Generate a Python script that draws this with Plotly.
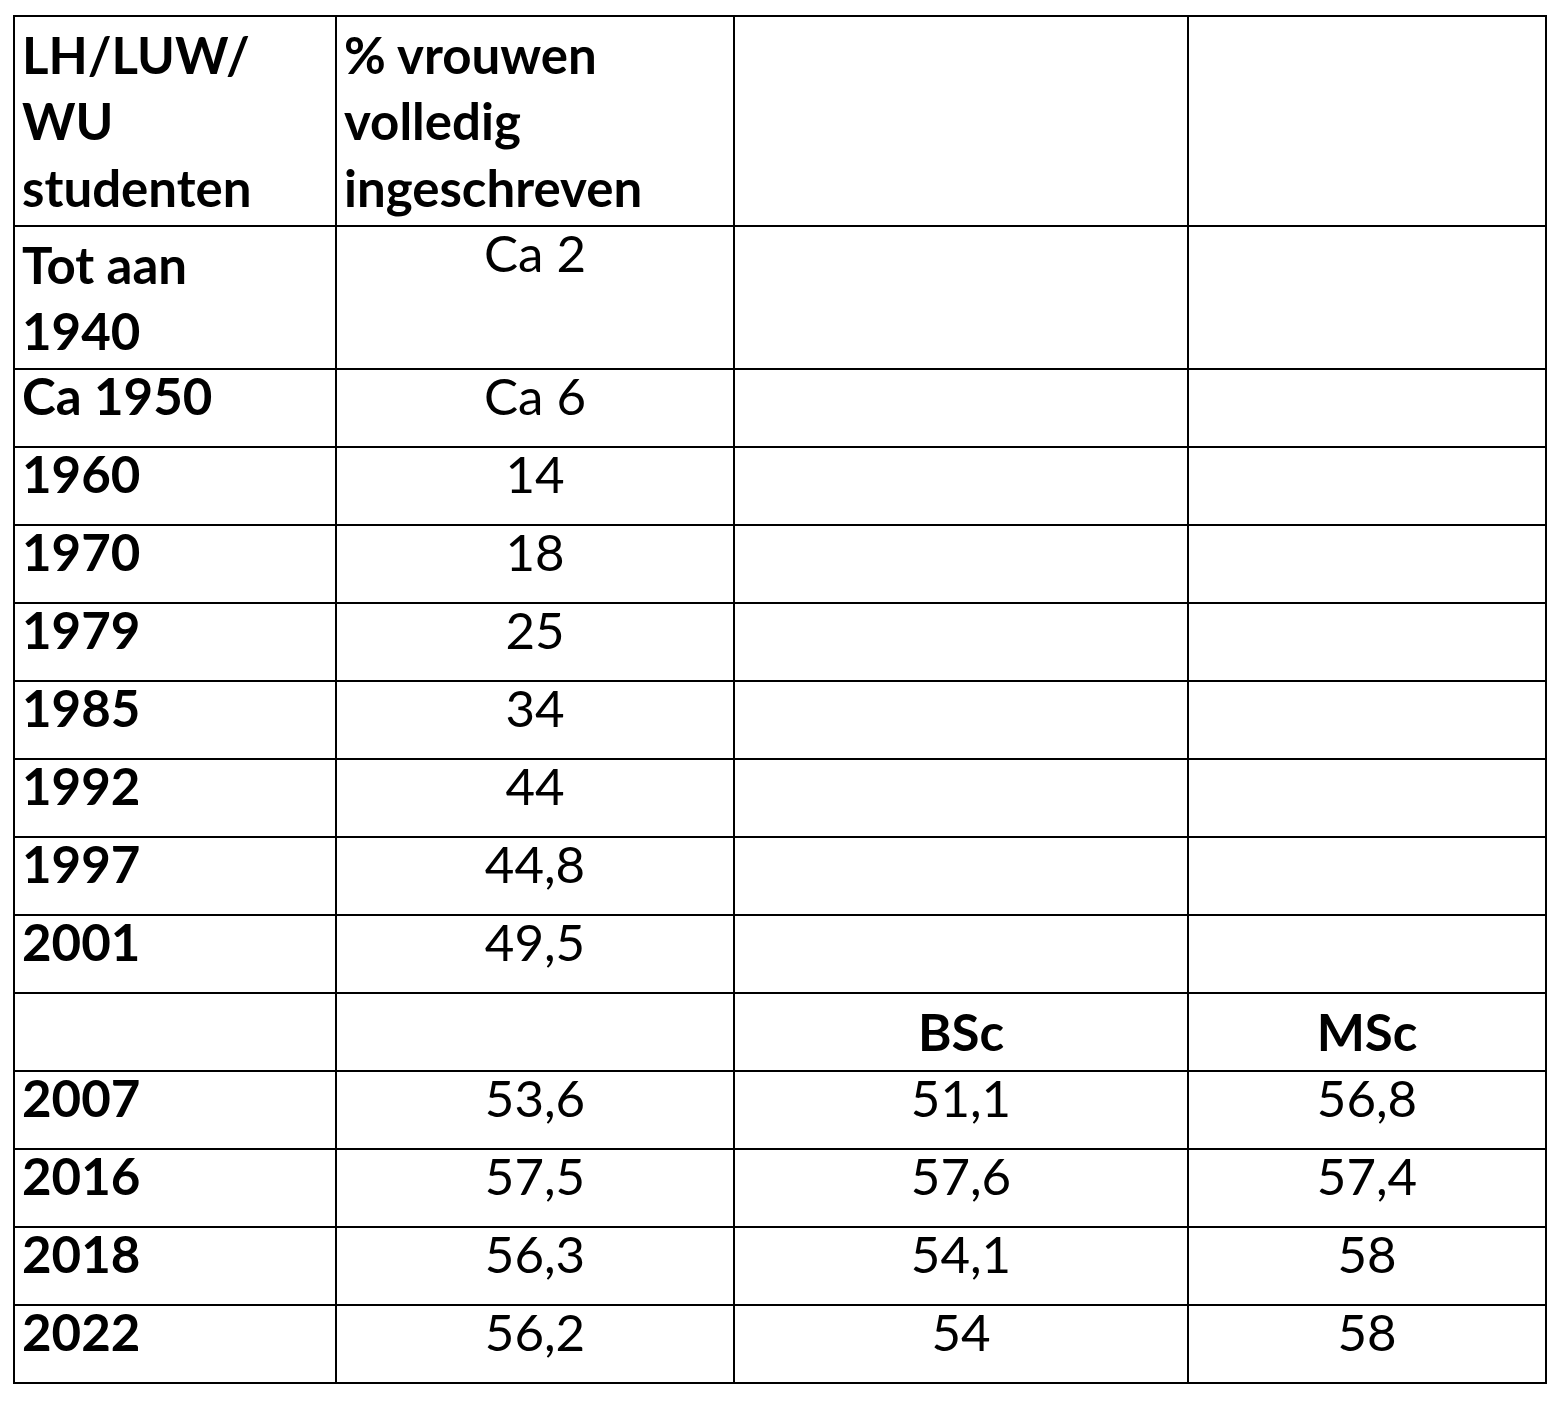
import plotly.graph_objects as go

header = ["LH/LUW/<br>WU<br>studenten", "% vrouwen<br>volledig<br>ingeschreven", "", ""]
years = ["Tot aan<br>1940", "Ca 1950", "1960", "1970", "1979", "1985", "1992", "1997",
         "2001", "", "2007", "2016", "2018", "2022"]
total = ["Ca 2", "Ca 6", "14", "18", "25", "34", "44", "44,8", "49,5", "",
         "53,6", "57,5", "56,3", "56,2"]
bsc = ["", "", "", "", "", "", "", "", "", "<b>BSc</b>", "51,1", "57,6", "54,1", "54"]
msc = ["", "", "", "", "", "", "", "", "", "<b>MSc</b>", "56,8", "57,4", "58", "58"]

fnt = "Lato"
fig = go.Figure(go.Table(
    columnwidth=[322, 398, 454, 358],
    header=dict(
        values=header,
        align=["left", "left", "center", "center"],
        font=dict(family=fnt, size=51, color="black", weight="bold"),
        fill_color="white",
        line=dict(color="black", width=2),
        height=78,
    ),
    cells=dict(
        values=[years, total, bsc, msc],
        align=["left", "center", "center", "center"],
        font=dict(family=fnt, size=51, color="black",
                  weight=["bold", "normal", "normal", "normal"]),
        fill_color="white",
        line=dict(color="black", width=2),
        height=78,
    ),
    domain=dict(x=[6 / 1565, 1538 / 1565], y=[0, 1 - 8 / 1428]),
))
fig.update_layout(width=1565, height=1428, margin=dict(l=0, r=0, t=0, b=0),
                  paper_bgcolor="white")
fig.write_html("out.html")
